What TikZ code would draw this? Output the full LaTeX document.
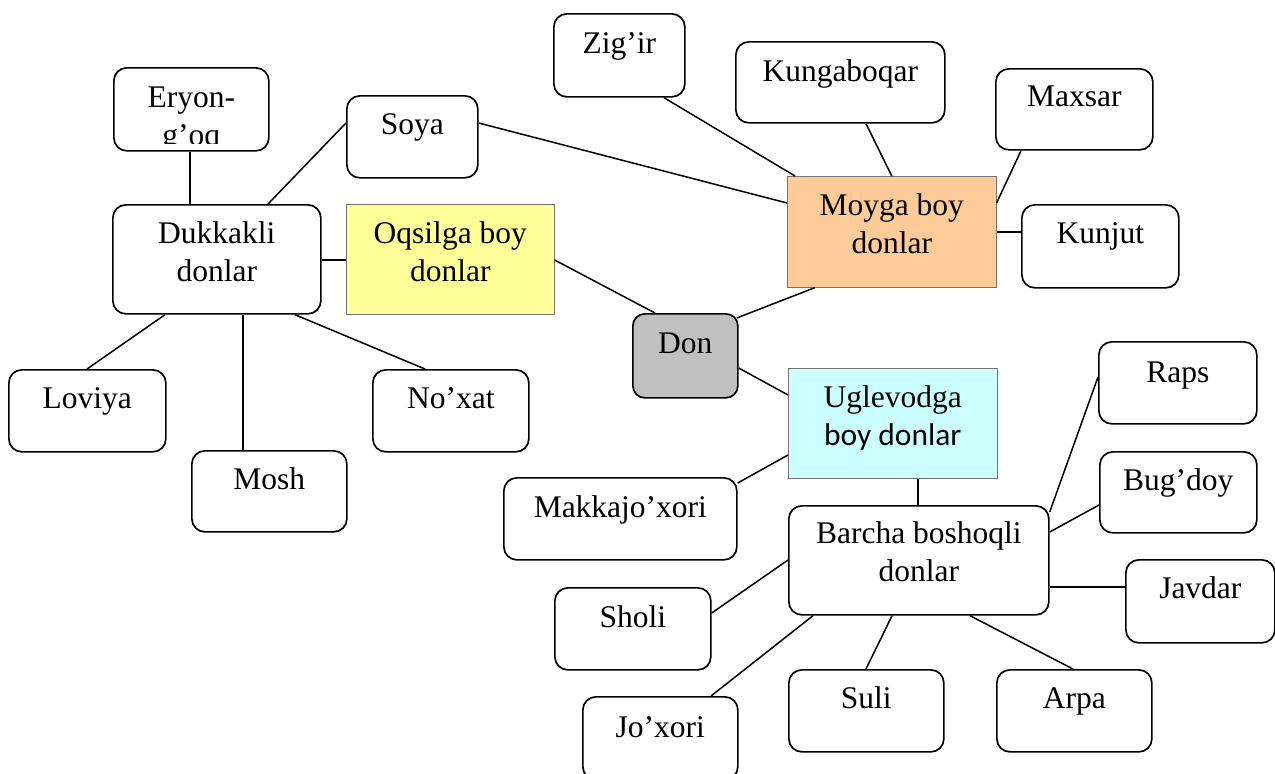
\documentclass[tikz,border=0pt]{standalone}
\usepackage{fontspec}
\setmainfont{Liberation Serif}
\newfontfamily\calfont{Carlito}
\usetikzlibrary{calc}
\definecolor{peach}{HTML}{FFCC99}
\definecolor{lemon}{HTML}{FFFF99}
\definecolor{aqua}{HTML}{CCFFFF}
\definecolor{silver}{HTML}{C0C0C0}
\begin{document}
\begin{tikzpicture}[x=1pt,y=-1pt,
  box/.style={draw, line width=1.7pt, rounded corners=13pt, inner sep=0pt, anchor=north west},
  cbox/.style={draw=black!55, line width=0.6pt, inner sep=0pt, anchor=north west},
  sz/.style 2 args={minimum width=#1pt, minimum height=#2pt},
  lbl/.style={anchor=base, inner sep=0pt, align=center, font=\fontsize{31.5}{38}\selectfont},
  link/.style={line width=1.5pt}]
\useasboundingbox (0,0) rectangle (1275,774);
\fill[white] (0,0) rectangle (1275,774);

% boxes
\node[box, sz={131}{83}] (zig) at (553,13) {};
\node[box, sz={209}{81}] (kung) at (735,41) {};
\node[box, sz={157}{81}] (max) at (995,68) {};
\node[box, sz={155}{83}] (eryon) at (113,67) {};
\node[box, sz={131}{82}] (soya) at (346,95) {};
\node[cbox, fill=peach, sz={209}{111}] (moyga) at (787,176) {};
\node[box, sz={157}{83}] (kunj) at (1021,204) {};
\node[box, sz={208}{109}] (dukk) at (112,204) {};
\node[cbox, fill=lemon, sz={208}{110}] (oqs) at (346,204) {};
\node[box, fill=silver, rounded corners=12pt, sz={105}{84}] (don) at (632,313) {};
\node[box, sz={157}{82}] (lov) at (8,369) {};
\node[box, sz={156}{82}] (nox) at (372,369) {};
\node[cbox, fill=aqua, sz={209}{110}] (ugl) at (788,368) {};
\node[box, sz={158}{82}] (raps) at (1098,341) {};
\node[box, sz={155}{81}] (mosh) at (191,450) {};
\node[box, sz={157}{81}] (bug) at (1099,451) {};
\node[box, sz={233}{82}] (makk) at (503,477) {};
\node[box, sz={260}{109}] (barcha) at (788,505) {};
\node[box, sz={149}{83}] (javdar) at (1125,559) {};
\node[box, sz={156}{82}] (sholi) at (554,587) {};
\node[box, sz={155}{82}] (suli) at (788,669) {};
\node[box, sz={155}{82}] (arpa) at (996,669) {};
\node[box, sz={155}{83}] (joxori) at (582,696) {};

% labels (multi-line nodes: base = last line)
\node[lbl] (zigT) at ([yshift=-40pt]zig.north) {Zig’ir};
\node[lbl] (kungT) at ([yshift=-40pt]kung.north) {Kungaboqar};
\node[lbl] (maxT) at ([yshift=-38pt]max.north) {Maxsar};
\begin{scope}
  \clip (eryon.north west) rectangle ([yshift=8pt]eryon.south east);
  \node[lbl] (eryonT) at ([yshift=-78pt]eryon.north) {Eryon-\\g’oq};
\end{scope}
\node[lbl] (soyaT) at ([yshift=-39pt]soya.north) {Soya};
\node[lbl] (moygaT) at ([yshift=-77pt]moyga.north) {Moyga boy\\donlar};
\node[lbl] (kunjT) at ([yshift=-39pt]kunj.north) {Kunjut};
\node[lbl] (dukkT) at ([yshift=-77pt]dukk.north) {Dukkakli\\donlar};
\node[lbl] (oqsT) at ([yshift=-77pt]oqs.north) {Oqsilga boy\\donlar};
\node[lbl] (donT) at ([yshift=-40pt]don.north) {Don};
\node[lbl] (lovT) at ([yshift=-39pt]lov.north) {Loviya};
\node[lbl] (noxT) at ([yshift=-39pt]nox.north) {No’xat};
\node[lbl] (uglT) at ([yshift=-77pt]ugl.north) {Uglevodga\\{\calfont boy donlar}};
\node[lbl] (rapsT) at ([yshift=-41pt]raps.north) {Raps};
\node[lbl] (moshT) at ([yshift=-39pt]mosh.north) {Mosh};
\node[lbl] (bugT) at ([yshift=-39pt]bug.north) {Bug’doy};
\node[lbl] (makkT) at ([yshift=-40pt]makk.north) {Makkajo’xori};
\node[lbl] (barchaT) at ([yshift=-76pt]barcha.north) {Barcha boshoqli\\donlar};
\node[lbl] (javdarT) at ([yshift=-39pt]javdar.north) {Javdar};
\node[lbl] (sholiT) at ([yshift=-40pt]sholi.north) {Sholi};
\node[lbl] (suliT) at ([yshift=-39pt]suli.north) {Suli};
\node[lbl] (arpaT) at ([yshift=-39pt]arpa.north) {Arpa};
\node[lbl] (joxoriT) at ([yshift=-41pt]joxori.north) {Jo’xori};

% connectors
\draw[link] ([xshift=111pt]zig.south west) -- ([xshift=8pt]moyga.north west);
\draw[link] ([xshift=131pt]kung.south west) -- (moyga.north);
\draw[link] ([xshift=26pt]max.south west) -- ([yshift=-27pt]moyga.north east);
\draw[link] ([yshift=-28pt]kunj.north west) -- ([yshift=-56pt]moyga.north east);
\draw[link] ([yshift=-28pt]soya.north east) -- ([yshift=-27pt]moyga.north west);
\draw[link] ([xshift=28pt]moyga.south west) -- ([xshift=-2pt,yshift=-5pt]don.north east);
\draw[link] ([yshift=-56pt]oqs.north east) -- ([xshift=23pt]don.north west);
\draw[link] ([yshift=-56pt]dukk.north east) -- ([yshift=-56pt]oqs.north west);
\draw[link] ([yshift=-55pt]don.north east) -- ([yshift=-27pt]ugl.north west);
\draw[link] ([yshift=-87pt]ugl.north west) -- ([yshift=-6pt]makk.north east);
\draw[link] ([xshift=130pt]ugl.south west) -- ([xshift=130pt]barcha.north west);
\draw[link] ([yshift=-7pt]barcha.north east) -- ([yshift=-36pt]raps.north west);
\draw[link] ([yshift=-27pt]barcha.north east) -- ([yshift=-54pt]bug.north west);
\draw[link] ([yshift=-82pt]barcha.north east) -- ([yshift=-28pt]javdar.north west);
\draw[link] ([yshift=-55pt]barcha.north west) -- ([yshift=-26pt]sholi.north east);
\draw[link] ([xshift=25pt]barcha.south west) -- ([xshift=129pt]joxori.north west);
\draw[link] ([xshift=104pt]barcha.south west) -- ([xshift=78pt]suli.north west);
\draw[link] ([xshift=182pt]barcha.south west) -- ([xshift=77pt]arpa.north west);
\draw[link] ([xshift=77pt]eryon.south west) -- ([xshift=78pt]dukk.north west);
\draw[link] ([yshift=-28pt]soya.north west) -- ([xshift=156pt]dukk.north west);
\draw[link] ([xshift=53pt]dukk.south west) -- ([xshift=79pt]lov.north west);
\draw[link] ([xshift=131pt]dukk.south west) -- ([xshift=52pt]mosh.north west);
\draw[link] ([xshift=183pt]dukk.south west) -- ([xshift=53pt]nox.north west);
\end{tikzpicture}
\end{document}
